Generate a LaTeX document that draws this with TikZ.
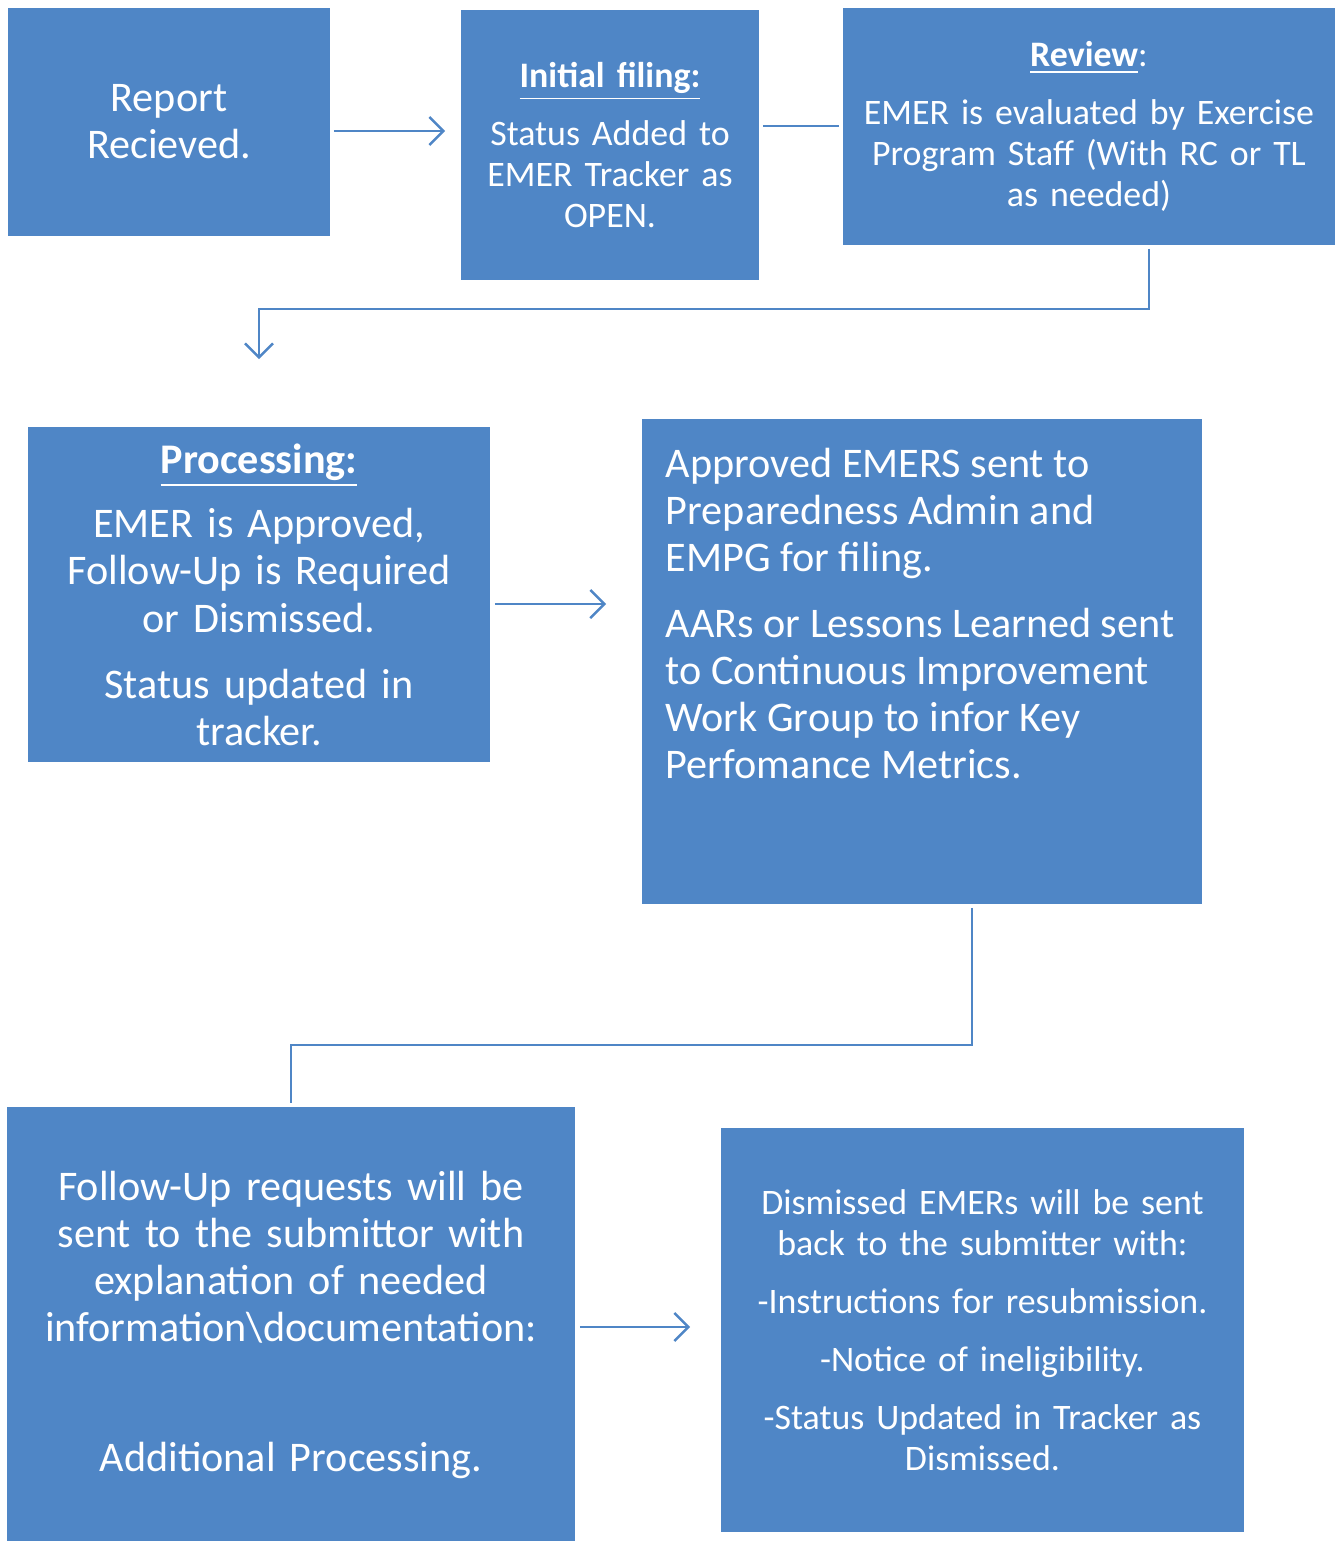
\documentclass[tikz,border=0pt]{standalone}
\usepackage{fontspec}
\setmainfont{Carlito}
\usepackage{tikz}
\usetikzlibrary{%
  positioning
 ,arrows.meta
 ,calc
}
\definecolor{emerblue}{RGB}{79,134,198}
\newcommand{\bigtxt}{\fontsize{12}{13.4}\selectfont}
\newcommand{\smalltxt}{\fontsize{10.2}{11.7}\selectfont}
\newcommand{\ttl}[1]{\underline{\textbf{#1}}}
\tikzstyle{flow}=[x=0.01cm,y=-0.01cm]
\tikzstyle{box}=[rectangle,fill=emerblue,text=white,inner sep=0pt,align=center]
\tikzstyle{conn}=[draw=emerblue,line width=0.7pt]
\tikzstyle{arr}=[conn,-{Straight Barb[length=4pt,width=8pt,line width=0.7pt]}]

\begin{document}
\begin{tikzpicture}[flow]
  \useasboundingbox (0,0) rectangle (1336,1541);
  \node[box,minimum width=3.22cm,minimum height=2.28cm,text width=3.2cm,font=\bigtxt]
    (report) at (169,122) {Report\\Recieved.};
  \node[box,minimum width=2.98cm,minimum height=2.70cm,text width=2.95cm,font=\smalltxt]
    (initial) at (610,145) {\ttl{Initial filing:}\\[4.6pt]Status Added to\\EMER Tracker as\\OPEN.};
  \node[box,minimum width=4.92cm,minimum height=2.37cm,text width=4.9cm,font=\smalltxt]
    (review) at (1089,126.5) {\ttl{Review}:\\[4.6pt]EMER is evaluated by Exercise\\Program Staff (With RC or TL\\as needed)};
  \node[box,minimum width=4.62cm,minimum height=3.35cm,text width=4.6cm,font=\bigtxt]
    (processing) at (259,594.5) {\ttl{Processing:}\\[5pt]EMER is Approved,\\Follow-Up is Required\\or Dismissed.\\[5.4pt]Status updated in\\tracker.};
  \node[box,minimum width=5.60cm,minimum height=4.85cm] (approved) at (922,661.5) {};
  \node[box,align=left,font=\bigtxt,anchor=north west]
    (approvedtxt) at ([shift={(24,29)}]approved.north west)
    {Approved EMERS sent to\\Preparedness Admin and\\EMPG for filing.\\[5.4pt]AARs or Lessons Learned sent\\to Continuous Improvement\\Work Group to infor Key\\Perfomance Metrics.};
  \node[box,minimum width=5.68cm,minimum height=4.36cm,text width=5.6cm,font=\bigtxt]
    (followup) at (291,1325) {Follow-Up requests will be\\sent to the submittor with\\explanation of needed\\information\textbackslash documentation:\\[23.6pt]Additional Processing.};
  \node[box,minimum width=5.23cm,minimum height=4.04cm,text width=5.2cm,font=\smalltxt]
    (dismissed) at (982.5,1330) {Dismissed EMERs will be sent\\back to the submitter with:\\[4.8pt]-Instructions for resubmission.\\[4.8pt]-Notice of ineligibility.\\[4.8pt]-Status Updated in Tracker as\\Dismissed.};
%
  \draw[arr]  ([shift={(3,9)}]report.east) -- ([shift={(-15,-14)}]initial.west);
  \draw[conn] ([shift={(3,-19)}]initial.east) -- ([shift={(-3,-0.5)}]review.west);
  \draw[arr]  ([shift={(60,3)}]review.south) -- ++(0,60) -| ([shift={(0,-67)}]processing.north);
  \draw[arr]  ([shift={(4,9.5)}]processing.east) -- ([shift={(-35,-57.5)}]approved.west);
  \draw[conn] ([shift={(50,3)}]approved.south) -- ++(0,137) -| ([shift={(0,-3)}]followup.north);
  \draw[arr]  ([shift={(4,2)}]followup.east) -- ([shift={(-30,-3)}]dismissed.west);
\end{tikzpicture}
\end{document}
